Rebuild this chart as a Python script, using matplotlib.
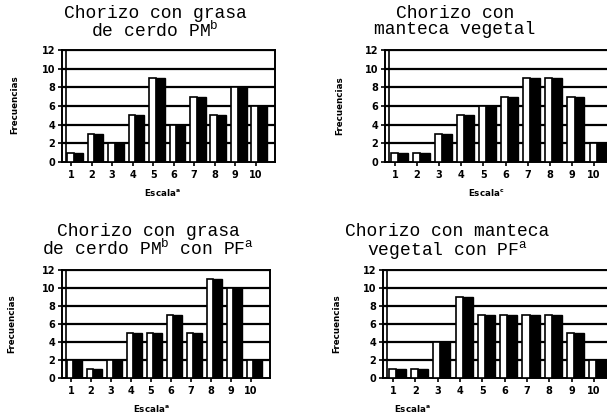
import numpy as np
from matplotlib import pyplot as plt

escala = [1, 2, 3, 4, 5, 6, 7, 8, 9, 10]
grasa_pm = [1, 3, 2, 5, 9, 4, 7, 5, 8, 6]
manteca = [1, 1, 3, 5, 6, 7, 9, 9, 7, 2]
grasa_pm_pf = [2, 1, 2, 5, 5, 7, 5, 11, 10, 2]
manteca_pf = [1, 1, 4, 9, 7, 7, 7, 7, 5, 2]

W, H = 607, 412
fig = plt.figure(figsize=(W / 100, H / 100), dpi=100)
fig.patch.set_facecolor('white')

title_font = ['Liberation Mono', 'DejaVu Sans Mono']


def px(x, y):
    return x / W, 1 - y / H


def panel(rect, vals, title, title_x, title_y, ylab_xy, xlab_xy, sup):
    l, t, r, b = rect
    ax = fig.add_axes([l / W, 1 - b / H, (r - l) / W, (b - t) / H])
    x = np.array(escala)
    # cara blanca + costado negro (imitando barras 3D)
    ax.bar(x - 0.2, vals, width=0.32, align='edge', color='white',
           edgecolor='black', linewidth=1.2, zorder=3)
    ax.bar(x + 0.12, vals, width=0.45, align='edge', color='black',
           edgecolor='black', linewidth=1.0, zorder=3)
    ax.set_xlim(0.55, 10.95)
    ax.set_ylim(0, 12)
    ax.set_yticks([0, 2, 4, 6, 8, 10, 12])
    ax.set_xticks(escala)
    for yy in [2, 4, 6, 8, 10, 12]:
        ax.axhline(yy, color='black', lw=1.6, zorder=1)
    ax.axvline(0.75, color='black', lw=1.2, zorder=2)
    for s in ax.spines.values():
        s.set_linewidth(1.4)
    ax.tick_params(axis='both', direction='out', length=3, width=1.2,
                   labelsize=7, pad=2)
    for lab in ax.get_xticklabels() + ax.get_yticklabels():
        lab.set_fontweight('bold')
    ax.tick_params(axis='x', pad=3)
    fx, fy = px(title_x, title_y)
    fig.text(fx, fy, title, ha='center', va='top', fontsize=13,
             family=title_font, linespacing=0.95, multialignment='center')
    fx, fy = px(*ylab_xy)
    fig.text(fx, fy, 'Frecuencias', rotation=90, ha='center', va='center',
             fontsize=6.3, fontweight='bold')
    fx, fy = px(*xlab_xy)
    fig.text(fx, fy, 'Escala$^\\mathbf{' + sup + '}$', ha='center', va='center',
             fontsize=6.3, fontweight='bold')
    return ax


panel((62, 50, 275, 162), grasa_pm,
      'Chorizo con grasa\nde cerdo PM$^\\mathregular{b}$',
      155, 5, (15, 105), (162, 192), 'a')
panel((385, 50, 615, 162), manteca,
      'Chorizo con\nmanteca vegetal',
      455, 5, (340, 106), (486, 192), 'c')
panel((62, 270, 270, 378), grasa_pm_pf,
      'Chorizo con grasa\nde cerdo PM$^\\mathregular{b}$ con PF$^\\mathregular{a}$',
      148, 223, (12, 324), (151, 408), 'a')
panel((383, 270, 615, 378), manteca_pf,
      'Chorizo con manteca\nvegetal con PF$^\\mathregular{a}$',
      447, 223, (337, 324), (412, 408), 'a')

plt.savefig('out.png', dpi=100)
